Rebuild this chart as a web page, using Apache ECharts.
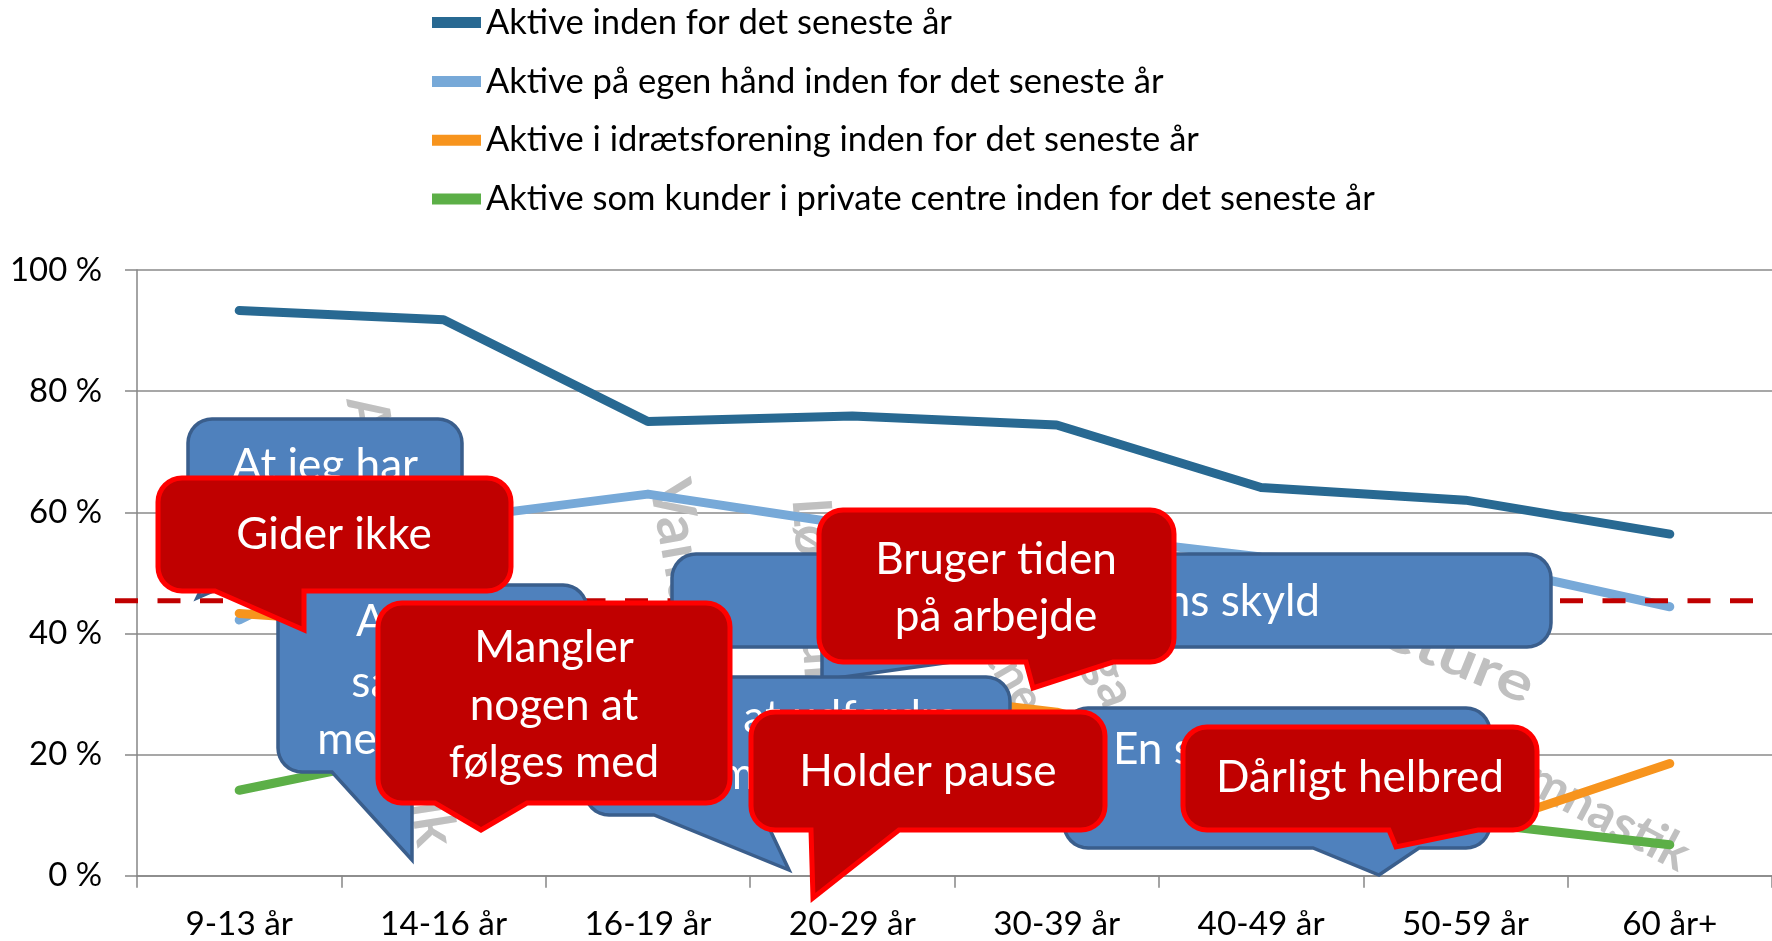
<!DOCTYPE html>
<html><head><meta charset="utf-8">
<script src="https://cdn.jsdelivr.net/npm/echarts@6/dist/echarts.min.js"></script>
<style>html,body{margin:0;padding:0;background:#fff}#c{width:1772px;height:941px}</style>
</head><body><div id="c"></div>
<script>
// ---------- data ----------
const categories = ['9-13 år','14-16 år','16-19 år','20-29 år','30-39 år','40-49 år','50-59 år','60 år+'];
const seriesNames = [
  'Aktive inden for det seneste år',
  'Aktive på egen hånd inden for det seneste år',
  'Aktive i idrætsforening inden for det seneste år',
  'Aktive som kunder i private centre inden for det seneste år'
];
const aktive          = [93.3, 91.8, 75.0, 75.9, 74.4, 64.1, 62.0, 56.4];
const egenHaand       = [42.2, 58.7, 63.0, 57.9, 56.6, 52.6, 51.8, 44.4];
const idraetsforening = [43.3, 41.0, 32.5, 31.0, 27.0, 18.0, 7.2, 18.5];
const privateCentre   = [14.1, 21.0, 24.0, 25.0, 21.0, 15.0, 8.9, 5.1];
const yTickLabels = ['0 %','20 %','40 %','60 %','80 %','100 %'];
const referenceLevel = 45.4;

// ---------- styles ----------
const FONT = 'Lato, "Open Sans", "Noto Sans", sans-serif';
const lineColors = ['#286992', '#77A9D8', '#F7941D', '#5CAF47'];
const cv = document.createElement('canvas').getContext('2d');
function fit(text, target, weight) {
  cv.font = (weight || 'normal') + ' 100px ' + FONT;
  return 100 * target / cv.measureText(text).width;
}
const legendFs = fit('Aktive inden for det seneste år', 466);
const axisFs = fit('16-19 år', 127);
const yFs = fit('100 %', 92);
const calloutFs = fit('Dårligt helbred', 288);

const chart = echarts.init(document.getElementById('c'), null, {renderer: 'canvas', width: 1772, height: 941});
chart.setOption({
  animation: false,
  backgroundColor: '#ffffff',
  color: lineColors,
  legend: {
    orient: 'vertical', left: 432, top: 2.6, padding: 0,
    itemWidth: 49, itemHeight: 11, itemGap: 18.8, icon: 'rect',
    itemStyle: {borderWidth: 0},
    lineStyle: {width: 10, cap: 'round'},
    textStyle: {fontFamily: FONT, fontSize: legendFs, color: '#000', lineHeight: 40},
    data: seriesNames
  },
  grid: {left: 137, top: 270, width: 1640, height: 607.5},
  xAxis: {
    type: 'category', data: categories, boundaryGap: true,
    axisLine: {lineStyle: {color: '#868686', width: 1.5}},
    axisTick: {show: true, length: 12, lineStyle: {color: '#868686', width: 1.5}},
    axisLabel: {color: '#000', fontFamily: FONT, fontSize: axisFs, margin: 32, lineHeight: axisFs, interval: 0}
  },
  yAxis: {
    type: 'value', min: 0, max: 100, interval: 20,
    axisLine: {show: true, lineStyle: {color: '#868686', width: 1.5}},
    axisTick: {show: true, length: 12, lineStyle: {color: '#868686', width: 1.5}},
    splitLine: {show: true, lineStyle: {color: '#8a8a8a', width: 1.5}},
    axisLabel: {color: '#000', fontFamily: FONT, fontSize: yFs, margin: 35,
      formatter: v => yTickLabels[Math.round(v / 20)]}
  },
  series: [aktive, egenHaand, idraetsforening, privateCentre].map((d, i) => ({
    name: seriesNames[i], type: 'line', data: d, symbol: 'none', z: 2,
    itemStyle: {color: lineColors[i]},
    lineStyle: {width: 9, color: lineColors[i], cap: 'round', join: 'round'}
  }))
});

// ---------- annotations ----------
const yRef = chart.convertToPixel({yAxisIndex: 0}, referenceLevel);

function calloutPoints(box, r, ptr) {
  const [x, y, w, h] = box; const [bx1, tx, ty, bx2] = ptr;
  const pts = []; const N = 8;
  function arc(cx, cy, a0, a1) {
    for (let k = 0; k <= N; k++) {
      const a = (a0 + (a1 - a0) * k / N) * Math.PI / 180;
      pts.push([cx + r * Math.cos(a), cy + r * Math.sin(a)]);
    }
  }
  arc(x + r, y + r, 180, 270);
  arc(x + w - r, y + r, 270, 360);
  arc(x + w - r, y + h - r, 0, 90);
  pts.push([bx2, y + h], [tx, ty], [bx1, y + h]);
  arc(x + r, y + h - r, 90, 180);
  return pts;
}

const callouts = [
  {kind: 'blue', box: [188, 419, 274, 156], ptr: [208, 197, 598, 250], lines: [['At jeg har', 325, 466], ['det sjovt', 325, 523]]},
  {kind: 'blue', box: [672, 554, 879, 93], ptr: [822, 822, 680, 1060], lines: [['For sundhedens skyld', 1320, 602, 'right']]},
  {kind: 'blue', box: [278, 585, 309, 187], ptr: [332, 412, 860, 412], lines: [['At være', 432, 622], ['sammen', 432, 683], ['med venner', 432, 740]]},
  {kind: 'blue', box: [585, 677, 425, 138], ptr: [654, 789, 870, 763], lines: [['Sjovt at udfordre', 797, 718], ['mig selv', 797, 775]]},
  {kind: 'blue', box: [1064, 708, 426, 140], ptr: [1313, 1379, 875, 1419], lines: [['En sundere livsstil', 1113, 750, 'left']]},
  {kind: 'red', box: [158, 478, 353, 113], ptr: [215, 304, 630, 304], lines: [['Gider ikke', 334, 535]]},
  {kind: 'red', box: [378, 603, 352, 200], ptr: [435, 481, 830, 527], lines: [['Mangler', 554, 648], ['nogen at', 554, 706], ['følges med', 554, 763]]},
  {kind: 'red', box: [819, 510, 355, 152], ptr: [1026, 1033, 688, 1113], lines: [['Bruger tiden', 996, 560], ['på arbejde', 996, 617]]},
  {kind: 'red', box: [751, 712, 354, 118], ptr: [811, 813, 898, 899], lines: [['Holder pause', 928, 772]]},
  {kind: 'red', box: [1183, 727, 354, 103], ptr: [1389, 1396, 847, 1478], lines: [['Dårligt helbred', 1360, 778]]}
];

const watermarks = [
  // text, x, y, clockwise deg, size, align, scaleX
  ['Vandreture', 668, 480, 80, 58, 'left', 1],
  ['Løbeture', 810, 498, 86, 54, 'left', 1],
  ['Rideture', 1532, 688, 22, 54, 'right', 1.25],
  ['Gymnastik', 1686, 858, 28, 50, 'right', 1],
  ['Aerobic og atletik', 436, 846, 81, null, 'right', 1],
  ['Yoga', 1120, 705, 70, 52, 'right', 1],
  ['Fitness', 1015, 680, 60, 48, 'center', 1]
];

const elements = [];
watermarks.forEach(w => {
  const size = w[4] || fit(w[0], 455, 'bold');
  elements.push({
    type: 'text', x: w[1], y: w[2], rotation: -w[3] * Math.PI / 180, scaleX: w[6], z: 1, silent: true,
    style: {text: w[0], fill: '#C0C0C0', font: 'bold ' + size.toFixed(1) + 'px ' + FONT, align: w[5], verticalAlign: 'middle'}
  });
});
elements.push({
  type: 'line', z: 3, silent: true,
  shape: {x1: 115, y1: yRef, x2: 1772, y2: yRef},
  style: {stroke: '#C00000', lineWidth: 5, lineDash: [23, 19.5]}
});
callouts.forEach((c, i) => {
  const red = c.kind === 'red';
  elements.push({
    type: 'polygon', z: 10 + i * 2, silent: true,
    shape: {points: calloutPoints(c.box, 24, c.ptr)},
    style: {fill: red ? '#C00000' : '#4F81BD', stroke: red ? '#FF0000' : '#3A5E8C', lineWidth: red ? 5 : 3.5, lineJoin: 'miter'}
  });
  c.lines.forEach(l => {
    elements.push({
      type: 'text', x: l[1], y: l[2], z: 11 + i * 2, silent: true,
      style: {text: l[0], fill: '#ffffff', font: calloutFs.toFixed(1) + 'px ' + FONT, align: l[3] || 'center', verticalAlign: 'middle'}
    });
  });
});
chart.setOption({graphic: {elements: elements}});
</script>
</body></html>
